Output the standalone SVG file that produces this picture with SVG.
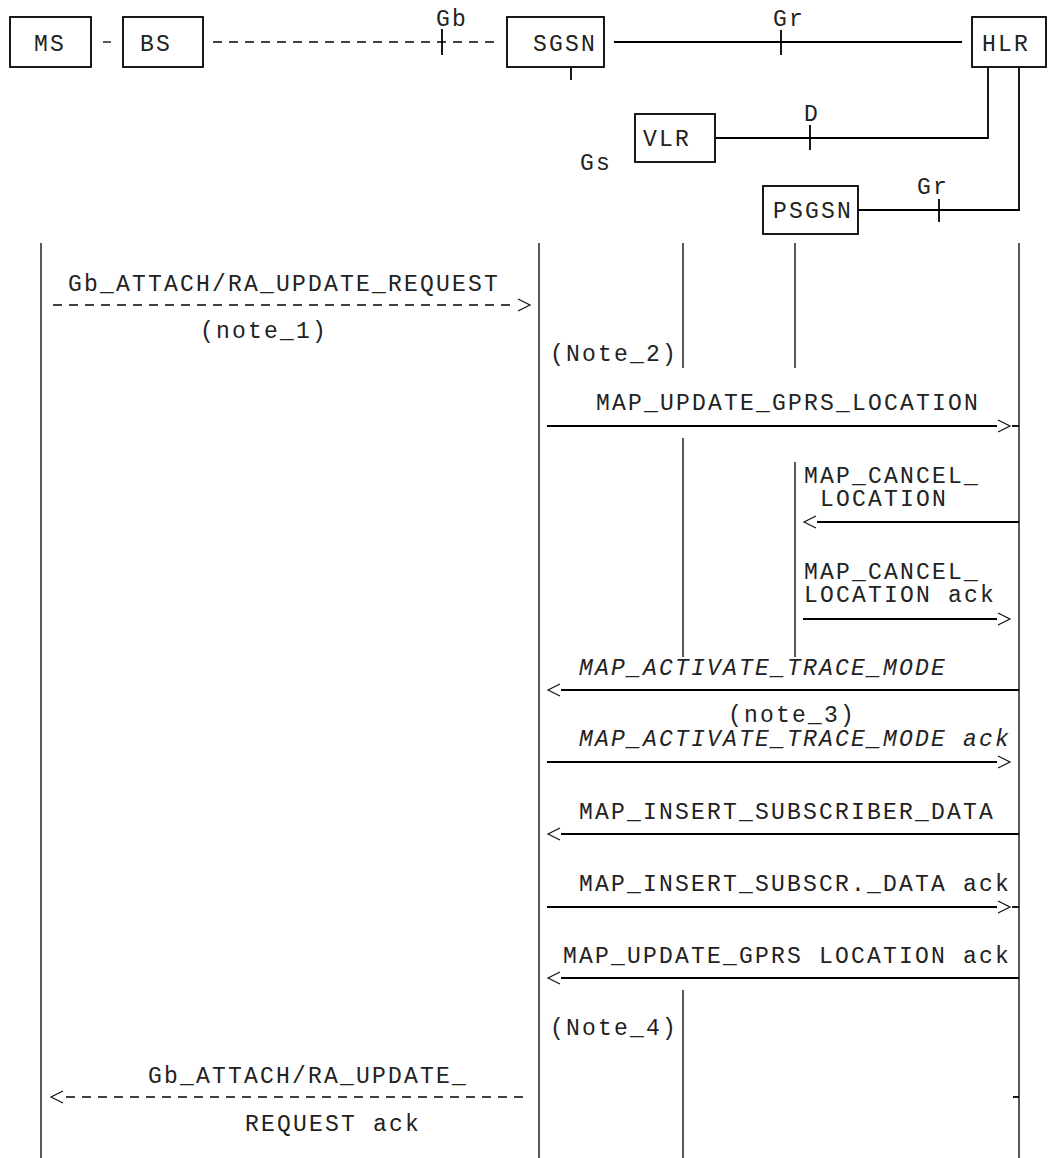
<svg xmlns="http://www.w3.org/2000/svg" width="1048" height="1158" viewBox="0 0 1048 1158">
<style>
text { font-family: "Liberation Mono", "Courier New", monospace; font-size: 23px; letter-spacing: 2.2px; fill: #222; }
.it { font-style: italic; }
.box { fill: #fff; stroke: #000; stroke-width: 1.8; }
.ln { stroke: #000; stroke-width: 1.8; fill: none; }
.ll { stroke: #000; stroke-width: 1.3; fill: none; }
.dash { stroke-dasharray: 9 7; stroke-width: 1.3; }
.hd { stroke: #111; stroke-width: 1.2; fill: none; }
</style>
<defs>
<path id="ar" d="M-12,-6 L0,0 L-12,6" class="hd"/>
<path id="al" d="M12,-6 L0,0 L12,6" class="hd"/>
</defs>
<rect width="1048" height="1158" fill="#fff"/>

<g id="node-MS"><rect class="box" x="10" y="17" width="81" height="50"/><text x="34" y="51">MS</text></g>
<g id="node-BS"><rect class="box" x="123" y="17" width="80" height="50"/><text x="140" y="51">BS</text></g>
<g id="node-SGSN"><rect class="box" x="507" y="17" width="97" height="50"/><text x="533" y="51">SGSN</text></g>
<g id="node-HLR"><rect class="box" x="972" y="17" width="74" height="50"/><text x="982" y="51">HLR</text></g>
<g id="node-VLR"><rect class="box" x="635" y="114" width="80" height="48"/><text x="643" y="146">VLR</text></g>
<g id="node-PSGSN"><rect class="box" x="763" y="186" width="95" height="48"/><text x="773" y="218">PSGSN</text></g>

<g id="interfaces">
<line class="ln" x1="103" y1="42" x2="111" y2="42" style="stroke-width:1.3"/>
<line class="ln dash" x1="213" y1="42" x2="497" y2="42"/>
<line class="ln" x1="442" y1="29" x2="442" y2="55"/>
<text x="436" y="26">Gb</text>
<line class="ln" x1="614" y1="42" x2="962" y2="42"/>
<line class="ln" x1="781" y1="30" x2="781" y2="55"/>
<text x="773" y="26">Gr</text>
<line class="ln" x1="571" y1="67" x2="571" y2="80"/>
<text x="580" y="170">Gs</text>
<polyline class="ln" points="988,67 988,138 716,138"/>
<line class="ln" x1="810" y1="125" x2="810" y2="150"/>
<text x="804" y="121">D</text>
<polyline class="ln" points="1019,67 1019,210 859,210"/>
<line class="ln" x1="939" y1="199" x2="939" y2="222"/>
<text x="917" y="194">Gr</text>
</g>

<g id="lifelines">
<line class="ll" x1="41" y1="243" x2="41" y2="1158"/>
<line class="ll" x1="539" y1="243" x2="539" y2="1158"/>
<line class="ll" x1="683" y1="243" x2="683" y2="368"/>
<line class="ll" x1="683" y1="438" x2="683" y2="657"/>
<line class="ll" x1="683" y1="990" x2="683" y2="1158"/>
<line class="ll" x1="795" y1="243" x2="795" y2="368"/>
<line class="ll" x1="795" y1="462" x2="795" y2="657"/>
<line class="ll" x1="1019" y1="243" x2="1019" y2="1158"/>
</g>

<g id="connectors">
<text x="68" y="291">Gb_ATTACH/RA_UPDATE_REQUEST</text>
<line class="ln dash" x1="53" y1="305" x2="517" y2="305"/>
<use href="#ar" x="530" y="305"/>
<text x="200" y="338">(note_1)</text>
<text x="550" y="361">(Note_2)</text>

<text x="596" y="410">MAP_UPDATE_GPRS_LOCATION</text>
<line class="ln" x1="547" y1="426" x2="997" y2="426"/>
<use href="#ar" x="1010" y="426"/>
<line class="ln" x1="1012" y1="426" x2="1019" y2="426"/>

<text x="804" y="483">MAP_CANCEL_</text>
<text x="820" y="506">LOCATION</text>
<use href="#al" x="804" y="522"/>
<line class="ln" x1="817" y1="522" x2="1019" y2="522"/>

<text x="804" y="579">MAP_CANCEL_</text>
<text x="804" y="602">LOCATION ack</text>
<line class="ln" x1="803" y1="619" x2="997" y2="619"/>
<use href="#ar" x="1010" y="619"/>

<text class="it" x="579" y="675">MAP_ACTIVATE_TRACE_MODE</text>
<use href="#al" x="548" y="690"/>
<line class="ln" x1="561" y1="690" x2="1019" y2="690"/>
<text x="728" y="722">(note_3)</text>

<text class="it" x="579" y="746">MAP_ACTIVATE_TRACE_MODE ack</text>
<line class="ln" x1="547" y1="762" x2="997" y2="762"/>
<use href="#ar" x="1010" y="762"/>

<text x="579" y="819">MAP_INSERT_SUBSCRIBER_DATA</text>
<use href="#al" x="548" y="834"/>
<line class="ln" x1="561" y1="834" x2="1019" y2="834"/>

<text x="579" y="891">MAP_INSERT_SUBSCR._DATA ack</text>
<line class="ln" x1="547" y1="907" x2="997" y2="907"/>
<use href="#ar" x="1010" y="907"/>
<line class="ln" x1="1012" y1="907" x2="1019" y2="907"/>

<text x="563" y="963">MAP_UPDATE_GPRS LOCATION ack</text>
<use href="#al" x="548" y="978"/>
<line class="ln" x1="561" y1="978" x2="1019" y2="978"/>

<text x="550" y="1035">(Note_4)</text>

<text x="148" y="1083">Gb_ATTACH/RA_UPDATE_</text>
<use href="#al" x="51" y="1097"/>
<line class="ln dash" x1="66" y1="1097" x2="530" y2="1097"/>
<text x="245" y="1131">REQUEST ack</text>
<line class="ln" x1="1013" y1="1097" x2="1019" y2="1097"/>
</g>
</svg>
